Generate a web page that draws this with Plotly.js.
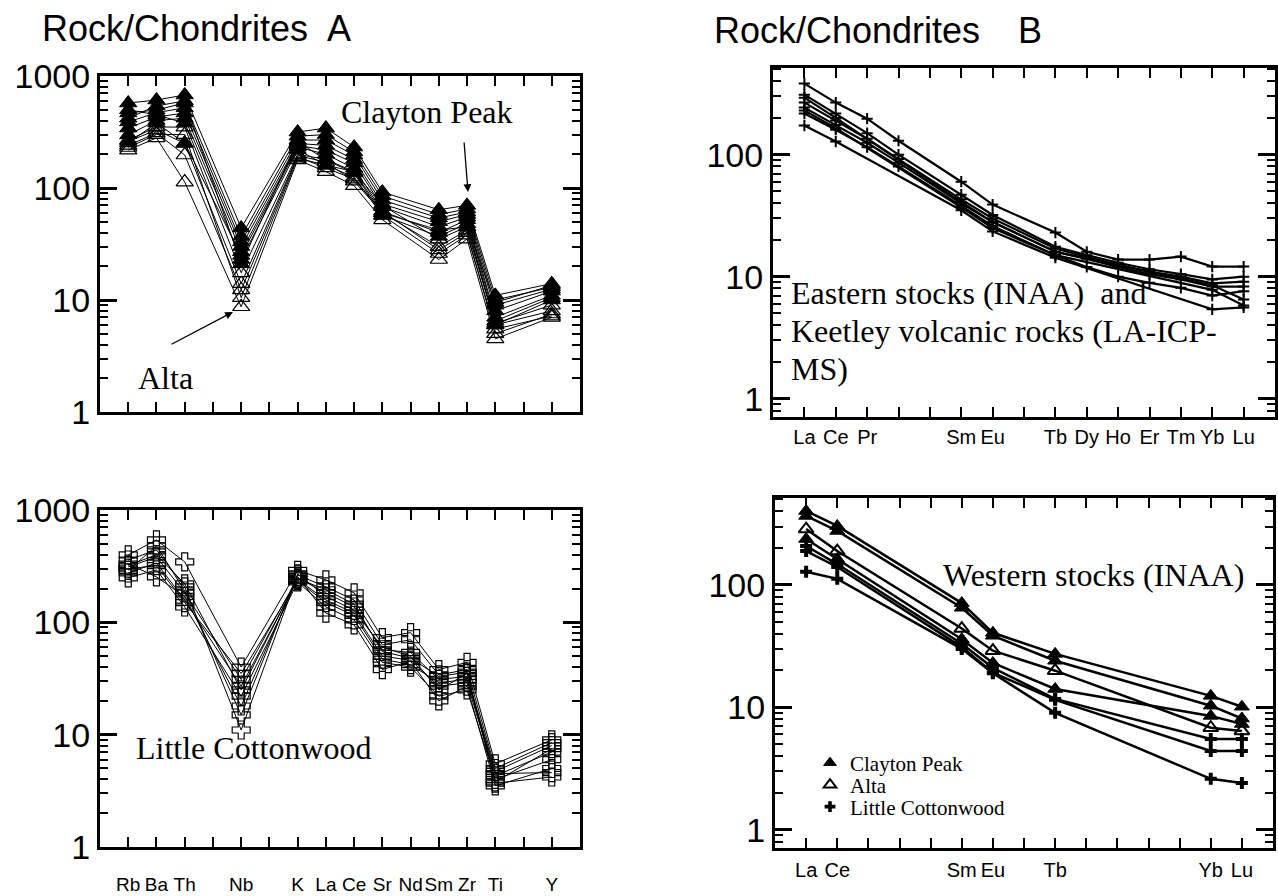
<!DOCTYPE html>
<html><head><meta charset="utf-8">
<script src="https://cdn.plot.ly/plotly-3.0.1.min.js"></script>
<style>html,body{margin:0;padding:0;background:#fff}#chart{width:1278px;height:896px}</style>
</head><body><div id="chart"></div>
<script>
// ---------- Spider diagram (panel A) ----------
const spiderElements = ["Rb","Ba","Th","Nb","K","La","Ce","Sr","Nd","Sm","Zr","Ti","Y"];
const spiderSlots    = [1,2,3,5,7,8,9,10,11,12,13,14,16];

// Clayton Peak (filled triangles), Nd not measured
const claytonPeak = [
  [574,610,677,44,316,343,232,92,null,64,70,11,14],
  [468,497,574,37,290,300,210,85,null,58,65,10,13],
  [389,470,520,33,268,268,197,78,null,54,61,9,12.5],
  [343,430,468,30,250,240,180,72,null,50,58,8,12],
  [298,400,420,27,240,218,167,68,null,45,55,7,11],
  [252,380,252,25,232,200,150,62,null,40,52,6.5,10.5],
  [420,540,600,21,260,178,136,57,null,37,48,6,10],
  [500,450,380,23,220,160,140,60,null,42,45,9.5,13.5]
];
// Alta (open triangles)
const alta = [
  [268,350,350,17.5,200,180,140,70,null,35,45,6,8],
  [240,310,197,12.3,190,151,120,62,null,28,40,5,7.5],
  [218,280,113,8.7,178,140,105,52,null,23,35,4.5,7],
  [230,300,300,10.5,185,160,125,57,null,26,38,5.5,7.2],
  [260,330,250,14,195,170,115,60,null,30,42,6.2,9]
];
// Little Cottonwood (open crosses)
const littleCottonwood = [
  [398,541,345,40,290,239,183,73,81,38,44,5.5,9],
  [359,441,207,11,264,207,158,63,70,34,38,5,8.5],
  [311,382,183,31,249,183,137,57,54,31,33,4.7,8],
  [275,338,158,27,240,158,121,50,46,27,29,4.3,7],
  [249,293,137,22,229,137,105,44,40,22,25,4,6],
  [330,254,170,18,255,121,95,38,45,20,27,3.5,5],
  [290,480,190,15,270,170,128,60,50,25,35,3.7,4.2],
  [300,320,150,35,235,150,115,47,42,29,31,4.5,4.6],
  [320,400,220,25,245,195,145,55,48,33,36,3.8,7.5]
];

// ---------- REE diagrams (panel B) ----------
const reeAll = ["La","Ce","Pr","Nd","Pm","Sm","Eu","Gd","Tb","Dy","Ho","Er","Tm","Yb","Lu"];
const reeLabelsEast = ["La","Ce","Pr","","","Sm","Eu","","Tb","Dy","Ho","Er","Tm","Yb","Lu"];
const reeLabelsWest = ["La","Ce","","","","Sm","Eu","","Tb","","","","","Yb","Lu"];
const icpElements  = ["La","Ce","Pr","Nd","Sm","Eu","Tb","Dy","Ho","Er","Tm","Yb","Lu"];
const inaaElements = ["La","Ce","Sm","Eu","Tb","Yb","Lu"];

// Keetley volcanic rocks (LA-ICP-MS)
const keetley = [
  [382,267,197,130,60,39,23,16,13.8,13.8,14.6,12.1,12.1],
  [310,217,150,100,47,32,17.6,15,13,11.5,10.5,9.5,10],
  [267,190,135,92,43,30,17,14.5,12.5,11,10,8.8,9.1],
  [243,175,125,86,40,28,16,14,12,10.5,9.5,8.3,8.3],
  [217,160,115,80,38,26,15,12,10,8.9,8.1,7.0,7.6]
];
// Eastern stocks (INAA)
const easternStocks = [
  [293,200,41,28,16,8.5,6.5],
  [230,165,37,25,15,7.8,5.8],
  [173,128,35,23.5,14.3,5.4,5.6]
];
// Western stocks (INAA)
const westCP   = [[402,303,71,40.6,27.3,12.4,10.1],[366,276,65,38.4,24,10.3,8.1],[237,163,36,23,14.1,8.5,7.3]];
const westAlta = [[286,189,44,29,19.9,6.8,6.4]];
const westLC   = [[208,148,33,21,11.7,5.5,5.5],[189,140,31,19.2,11.5,4.4,4.4],[128,112,30,19,9,2.6,2.4]];

// ---------- build ----------
const W = 1278, H = 896;
const px = x => x / W, py = y => 1 - y / H;
const SANS = 'Liberation Sans, Arial, Helvetica, sans-serif';
const SERIF = 'Liberation Serif, Times New Roman, serif';
const BLACK = '#000';

const traces = [];
function addSeries(rows, xs, xa, ya, marker, lw) {
  rows.forEach(r => traces.push({
    type:'scatter', mode:'lines+markers', x: xs, y: r, xaxis: xa, yaxis: ya,
    connectgaps: true, showlegend: false, hoverinfo:'skip', cliponaxis:false,
    line: {color: BLACK, width: lw}, marker: marker
  }));
}
const filledTri = {symbol:'triangle-up', size:15, color:BLACK, line:{color:BLACK,width:1}};
const openTri   = {symbol:'triangle-up-open', size:15, color:BLACK, line:{color:BLACK,width:1.2}};
const openCross = {symbol:'cross-open', size:15, color:BLACK, line:{color:BLACK,width:1.2}};

addSeries(alta, spiderSlots, 'x', 'y', openTri, 1);
addSeries(claytonPeak, spiderSlots, 'x', 'y', filledTri, 1);
addSeries(littleCottonwood, spiderSlots, 'x2', 'y2', openCross, 1);

const smallPlus = {symbol:'cross-thin-open', size:8, color:BLACK, line:{color:BLACK,width:2}};
addSeries(keetley, icpElements, 'x3', 'y3', smallPlus, 2.2);
addSeries(easternStocks, inaaElements, 'x3', 'y3', smallPlus, 2.2);

const wFilledTri = {symbol:'triangle-up', size:13, color:BLACK, line:{color:BLACK,width:1}};
const wOpenTri   = {symbol:'triangle-up-open', size:13, color:BLACK, line:{color:BLACK,width:2}};
const wCross     = {symbol:'cross', size:10, color:BLACK, line:{color:BLACK,width:0}};
addSeries(westCP, inaaElements, 'x4', 'y4', wFilledTri, 2.5);
addSeries(westAlta, inaaElements, 'x4', 'y4', wOpenTri, 2.5);
addSeries(westLC, inaaElements, 'x4', 'y4', wCross, 2.5);

// legend entries (marker only), each in its own legend box so they can sit close together
const legendItems = [['Clayton Peak', wFilledTri, 'legend'], ['Alta', wOpenTri, 'legend2'], ['Little Cottonwood', wCross, 'legend3']];
legendItems.forEach(([n, m, lg]) =>
  traces.push({type:'scatter', mode:'markers', x:[null], y:[null], xaxis:'x4', yaxis:'y4',
    name:n, showlegend:true, legend:lg, marker:Object.assign({}, m, {size: m.symbol==='cross'?9:11})}));

// axes
const minorVals = [];
[0.1,1,10,100].forEach(d => { for (let m = 2; m <= 9; m++) minorVals.push(+(m*d).toPrecision(3)); });

function yAxis(dom, range, anchor, tv) {
  return {type:'log', domain:dom, range:range, anchor:anchor,
    tickmode:'array', tickvals:tv, ticktext:tv.map(String),
    ticks:'inside', ticklen:17, tickwidth:3, tickcolor:BLACK,
    showline:true, linewidth:3, linecolor:BLACK, mirror:'ticks',
    showgrid:false, zeroline:false,
    tickfont:{family:SANS, size:34, color:BLACK},
    minor:{tickmode:'array', tickvals:minorVals, ticks:'inside', ticklen:8, tickwidth:2, tickcolor:BLACK, showgrid:false},
    fixedrange:true};
}
function xAxis(dom, anchor, extra) {
  return Object.assign({domain:dom, anchor:anchor,
    ticks:'inside', ticklen:10, tickwidth:2, tickcolor:BLACK,
    showline:true, linewidth:3, linecolor:BLACK, mirror:'ticks',
    showgrid:false, zeroline:false, fixedrange:true, tickangle:0,
    tickfont:{family:SANS, size:20, color:BLACK}}, extra);
}
const slotTicks = []; const slotText = [];
for (let s = 1; s <= 16; s++) { slotTicks.push(s); const i = spiderSlots.indexOf(s); slotText.push(i >= 0 ? spiderElements[i] : ''); }

const legendBase = {xanchor:'left', yanchor:'middle', bgcolor:'rgba(0,0,0,0)', borderwidth:0,
  font:{family:SERIF, size:21, color:BLACK}, itemwidth:30, tracegroupgap:0};

const layout = {
  width: W, height: H, autosize:false,
  margin:{l:0,r:0,t:0,b:0}, paper_bgcolor:'#fff', plot_bgcolor:'rgba(0,0,0,0)',
  showlegend:true,
  legend:  Object.assign({x:px(810), y:py(763)}, legendBase),
  legend2: Object.assign({x:px(810), y:py(785)}, legendBase),
  legend3: Object.assign({x:px(810), y:py(807)}, legendBase),
  xaxis:  xAxis([px(100),px(580)], 'y',  {type:'linear', range:[0,17], tickmode:'array', tickvals:slotTicks, showticklabels:false}),
  yaxis:  yAxis([py(412),py(76)], [0,3], 'x', [1,10,100,1000]),
  xaxis2: xAxis([px(100),px(580)], 'y2', {type:'linear', range:[0,17], tickmode:'array', tickvals:slotTicks, ticktext:slotText, ticklabelstandoff:18,
           tickfont:{family:SANS, size:19, color:BLACK}}),
  yaxis2: yAxis([py(847),py(510)], [0,3], 'x2', [1,10,100,1000]),
  xaxis3: xAxis([px(773),px(1275)], 'y3', {type:'category', categoryorder:'array', categoryarray:reeAll, range:[-1,15], tickmode:'array', tickvals:reeAll, ticktext:reeLabelsEast, ticklabelstandoff:0}),
  yaxis3: yAxis([py(417),py(68)], [-0.15,2.71], 'x3', [1,10,100]),
  xaxis4: xAxis([px(775),px(1273)], 'y4', {type:'category', categoryorder:'array', categoryarray:reeAll, range:[-1,15], tickmode:'array', tickvals:reeAll, ticktext:reeLabelsWest, ticklabelstandoff:2}),
  yaxis4: yAxis([py(848),py(498)], [-0.15,2.71], 'x4', [1,10,100]),
  annotations: [
    {text:'Rock/Chondrites', x:px(40), y:py(28), xref:'paper', yref:'paper', xanchor:'left', yanchor:'middle', showarrow:false, font:{family:SANS, size:36, color:BLACK}},
    {text:'A', x:px(325), y:py(28), xref:'paper', yref:'paper', xanchor:'left', yanchor:'middle', showarrow:false, font:{family:SANS, size:36, color:BLACK}},
    {text:'Rock/Chondrites', x:px(712), y:py(30), xref:'paper', yref:'paper', xanchor:'left', yanchor:'middle', showarrow:false, font:{family:SANS, size:36, color:BLACK}},
    {text:'B', x:px(1016), y:py(30), xref:'paper', yref:'paper', xanchor:'left', yanchor:'middle', showarrow:false, font:{family:SANS, size:36, color:BLACK}},
    {text:'Clayton Peak', x:px(427), y:py(112), xref:'paper', yref:'paper', xanchor:'center', yanchor:'middle', showarrow:false, font:{family:SERIF, size:32, color:BLACK}},
    {text:'', x:px(468), y:py(192), xref:'paper', yref:'paper', ax:-4, ay:-51, axref:'pixel', ayref:'pixel', showarrow:true, arrowhead:2, arrowsize:1.2, arrowwidth:1.3, arrowcolor:BLACK},
    {text:'Alta', x:px(136), y:py(378), xref:'paper', yref:'paper', xanchor:'left', yanchor:'middle', showarrow:false, font:{family:SERIF, size:32, color:BLACK}},
    {text:'', x:px(233), y:py(312), xref:'paper', yref:'paper', ax:-63, ay:33, axref:'pixel', ayref:'pixel', showarrow:true, arrowhead:2, arrowsize:1.2, arrowwidth:1.3, arrowcolor:BLACK},
    {text:'Little Cottonwood', x:px(134), y:py(748), xref:'paper', yref:'paper', xanchor:'left', yanchor:'middle', showarrow:false, font:{family:SERIF, size:32, color:BLACK}},
    {text:'Eastern stocks (INAA)  and', x:px(789), y:py(293), xref:'paper', yref:'paper', xanchor:'left', yanchor:'middle', showarrow:false, font:{family:SERIF, size:32, color:BLACK}},
    {text:'Keetley volcanic rocks (LA-ICP-', x:px(789), y:py(331), xref:'paper', yref:'paper', xanchor:'left', yanchor:'middle', showarrow:false, font:{family:SERIF, size:32, color:BLACK}},
    {text:'MS)', x:px(789), y:py(369), xref:'paper', yref:'paper', xanchor:'left', yanchor:'middle', showarrow:false, font:{family:SERIF, size:32, color:BLACK}},
    {text:'Western stocks (INAA)', x:px(941), y:py(575), xref:'paper', yref:'paper', xanchor:'left', yanchor:'middle', showarrow:false, font:{family:SERIF, size:32, color:BLACK}}
  ]
};

Plotly.newPlot('chart', traces, layout, {staticPlot:true, displayModeBar:false});
</script></body></html>
